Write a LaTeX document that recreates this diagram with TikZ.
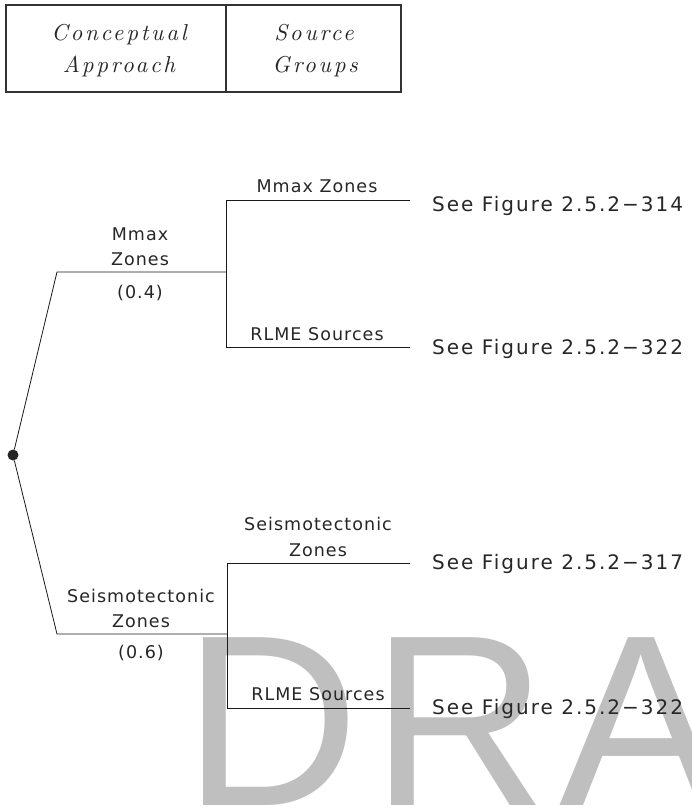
\documentclass[tikz,border=0pt]{standalone}
\usepackage{fontspec}
\newfontfamily\cadfont[LetterSpace=6]{DejaVu Sans}
\newfontfamily\cadbig[LetterSpace=10]{DejaVu Sans}
\newfontfamily\wmfont[LetterSpace=5]{Liberation Sans}
\newfontfamily\hdrfont[LetterSpace=12]{lmroman10-italic.otf}
\tikzset{
  branch/.style={line width=0.8pt, draw=black!90},
  frame/.style={line width=1.1pt, draw=black!80},
  lbl/.style={font=\cadfont\fontsize{17.5}{21}\selectfont, inner sep=0pt, anchor=base, text=black!85},
  fig/.style={font=\cadbig\fontsize{20}{24}\selectfont, inner sep=0pt, anchor=base west, text=black!85},
  hdr/.style={font=\hdrfont\fontsize{23}{27}\selectfont, inner sep=0pt, anchor=base, text=black!85},
  wm/.style={font=\wmfont\fontsize{244}{244}\selectfont, inner sep=0pt, anchor=base west, text=black!25},
  rootdot/.style={circle, fill=black!85, inner sep=0pt, minimum size=11pt},
}
\begin{document}
\begin{tikzpicture}[x=1pt,y=-1pt]
\useasboundingbox (0,0) rectangle (692,809);
% watermark
\node[wm] (wmark) at (183,805) {DRA};
% header table
\coordinate (h1) at (6,5);
\coordinate (h2) at (401,92);
\coordinate (d1) at (226,5);
\coordinate (d2) at (226,92);
\draw[frame] (h1) rectangle (h2);
\draw[frame] (d1) -- (d2);
\node[hdr] (c1) at (119,40) {Conceptual};
\node[hdr] (c2) at (119,72) {Approach};
\node[hdr] (s1) at (314,40) {Source};
\node[hdr] (s2) at (315,72) {Groups};
% tree
\node[rootdot] (root) at (13,455) {};
\coordinate (a1) at (57,272);
\coordinate (a2) at (226,272);
\coordinate (a3) at (226,200);
\coordinate (a4) at (226,347);
\coordinate (a5) at (410,200);
\coordinate (a6) at (410,347);
\coordinate (b1) at (57,634);
\coordinate (b2) at (227,634);
\coordinate (b3) at (227,563);
\coordinate (b4) at (227,708);
\coordinate (b5) at (410,563);
\coordinate (b6) at (410,708);
\draw[branch] (root) -- (a1) -- (a2);
\draw[branch] (a5) -- (a3) -- (a4) -- (a6);
\draw[branch] (root) -- (b1) -- (b2);
\draw[branch] (b5) -- (b3) -- (b4) -- (b6);
% labels upper
\node[lbl] (m1) at (140,240) {Mmax};
\node[lbl] (m2) at (140,265) {Zones};
\node[lbl] (m3) at (140,298) {(0.4)};
\node[lbl] (u1) at (317,192) {Mmax Zones};
\node[lbl] (u2) at (317,340) {RLME Sources};
\node[fig] (f1) at (432,211) {See Figure 2.5.2−314};
\node[fig] (f2) at (432,354) {See Figure 2.5.2−322};
% labels lower
\node[lbl] (n1) at (141,602) {Seismotectonic};
\node[lbl] (n2) at (141,627) {Zones};
\node[lbl] (n3) at (141,658) {(0.6)};
\node[lbl] (l1) at (318,530) {Seismotectonic};
\node[lbl] (l2) at (318,556) {Zones};
\node[lbl] (l3) at (318,700) {RLME Sources};
\node[fig] (f3) at (432,569) {See Figure 2.5.2−317};
\node[fig] (f4) at (432,714) {See Figure 2.5.2−322};
\end{tikzpicture}
\end{document}
